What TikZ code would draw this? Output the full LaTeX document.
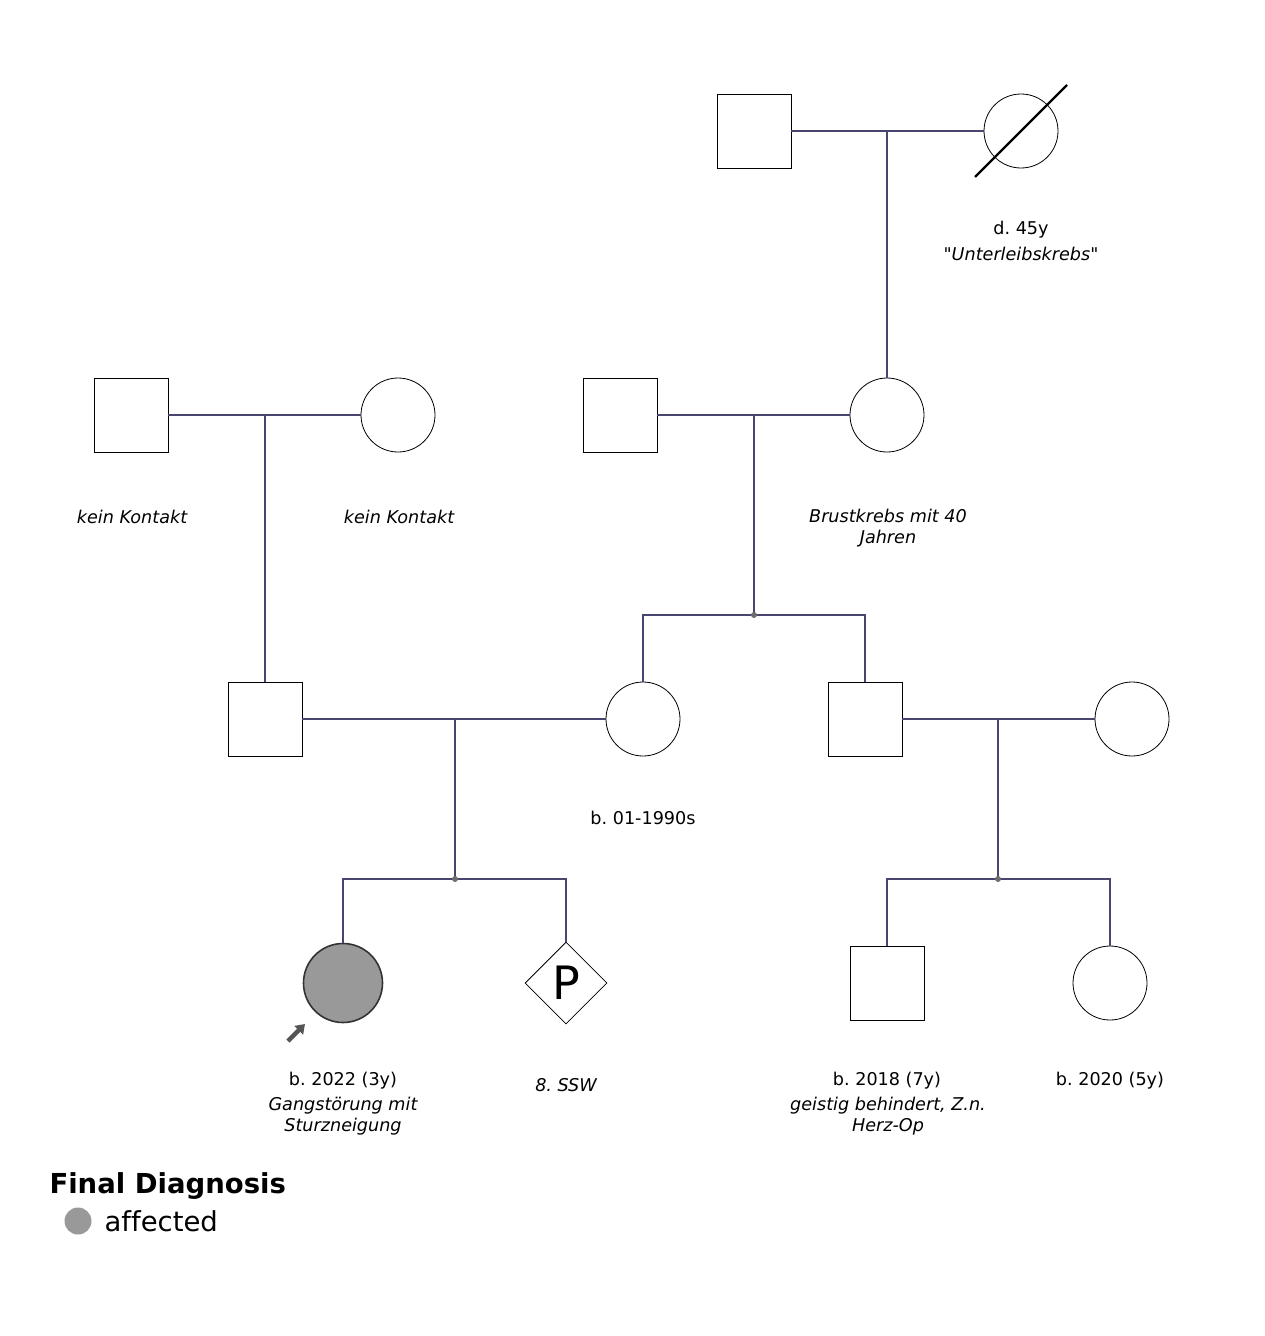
\documentclass[tikz,border=0pt]{standalone}
\usepackage{fontspec}
\setmainfont[Ligatures={NoCommon,TeXOff}]{DejaVu Sans}
\usetikzlibrary{shapes.geometric,arrows.meta}
\frenchspacing

\definecolor{linkcol}{RGB}{72,70,110}
\definecolor{affcol}{RGB}{153,153,153}
\definecolor{dotcol}{RGB}{110,110,110}
\definecolor{arrcol}{RGB}{85,85,85}

\tikzset{
  male/.style={draw=black,line width=0.8pt,rectangle,minimum size=74pt,inner sep=0pt},
  female/.style={draw=black,line width=0.8pt,circle,minimum size=74pt,inner sep=0pt},
  unknown/.style={draw=black,line width=0.8pt,diamond,minimum size=82pt,inner sep=0pt,font=\fontsize{46}{50}\selectfont},
  affected/.style={fill=affcol,draw=black!80,line width=1.6pt,minimum size=79pt},
  link/.style={draw=linkcol,line width=1.8pt},
  info/.style={align=center,font=\fontsize{17.6}{21}\selectfont},
  note/.style={align=center,font=\fontsize{17.6}{21}\selectfont\itshape},
  junc/.style={fill=dotcol,circle,inner sep=0pt,minimum size=6pt}
}

\begin{document}
\begin{tikzpicture}[x=1pt,y=-1pt]
\useasboundingbox (0,0) rectangle (1264,1336);

% generation I
\node[male] (gpm) at (754,131) {};
\node[female] (gpf) at (1021,131) {};
\draw[line width=2.2pt] (975,177) -- (1067,85);
\node[info] at (1021,230) {d. 45y};
\node[note] at (1021,254) {"Unterleibskrebs"};

% generation II
\node[male] (pm) at (131,415) {};
\node[female] (pf) at (398,415) {};
\node[male] (mm) at (620,415) {};
\node[female] (mf) at (887,415) {};
\node[note] at (132,517) {kein Kontakt};
\node[note] at (399,517) {kein Kontakt};
\node[note] at (888,528) {Brustkrebs mit 40\\Jahren};

% generation III
\node[male] (fa) at (265,719) {};
\node[female] (mo) at (643,719) {};
\node[male] (un) at (865,719) {};
\node[female] (ai) at (1132,719) {};
\node[info] at (643,818) {b. 01-1990s};

% generation IV
\node[female,affected] (pro) at (343,983) {};
\node[unknown] (preg) at (566,983) {P};
\node[male] (co1) at (887,983) {};
\node[female] (co2) at (1110,983) {};
\node[info] at (343,1081) {b. 2022 (3y)};
\node[note] at (343,1116) {Gangstörung mit\\Sturzneigung};
\node[note] at (566,1085) {8. SSW};
\node[info] at (887,1081) {b. 2018 (7y)};
\node[note] at (888,1116) {geistig behindert, Z.n.\\Herz-Op};
\node[info] at (1110,1081) {b. 2020 (5y)};

% proband arrow
\draw[-{Triangle[length=9pt,width=12pt]},draw=arrcol,fill=arrcol,line width=4.5pt] (288,1041) -- (305,1024);

% couples and lines of descent
\coordinate (u1) at (887,131);
\draw[link] (gpm.east) -- (gpf.west);
\draw[link] (u1) -- (mf.north);

\coordinate (u2) at (265,415);
\draw[link] (pm.east) -- (pf.west);
\draw[link] (u2) -- (fa.north);

\coordinate (u3) at (754,415);
\coordinate (s3) at (754,615);
\draw[link] (mm.east) -- (mf.west);
\draw[link] (u3) -- (s3);
\draw[link] (mo.north) |- (s3) -| (un.north);
\node[junc] at (s3) {};

\coordinate (u4) at (455,719);
\coordinate (s4) at (455,879);
\draw[link] (fa.east) -- (mo.west);
\draw[link] (u4) -- (s4);
\draw[link] (pro.north) |- (s4) -| (preg.north);
\node[junc] at (s4) {};

\coordinate (u5) at (998,719);
\coordinate (s5) at (998,879);
\draw[link] (un.east) -- (ai.west);
\draw[link] (u5) -- (s5);
\draw[link] (co1.north) |- (s5) -| (co2.north);
\node[junc] at (s5) {};

% legend
\node[anchor=west,font=\fontsize{27.5}{32}\selectfont\bfseries] (lgd) at (46,1186) {Final Diagnosis};
\node[circle,fill=affcol,minimum size=27pt,inner sep=0pt] (lgdc) at (78,1221) {};
\node[anchor=west,font=\fontsize{27.5}{32}\selectfont] (lgdt) at (101,1221) {affected};
\end{tikzpicture}
\end{document}
